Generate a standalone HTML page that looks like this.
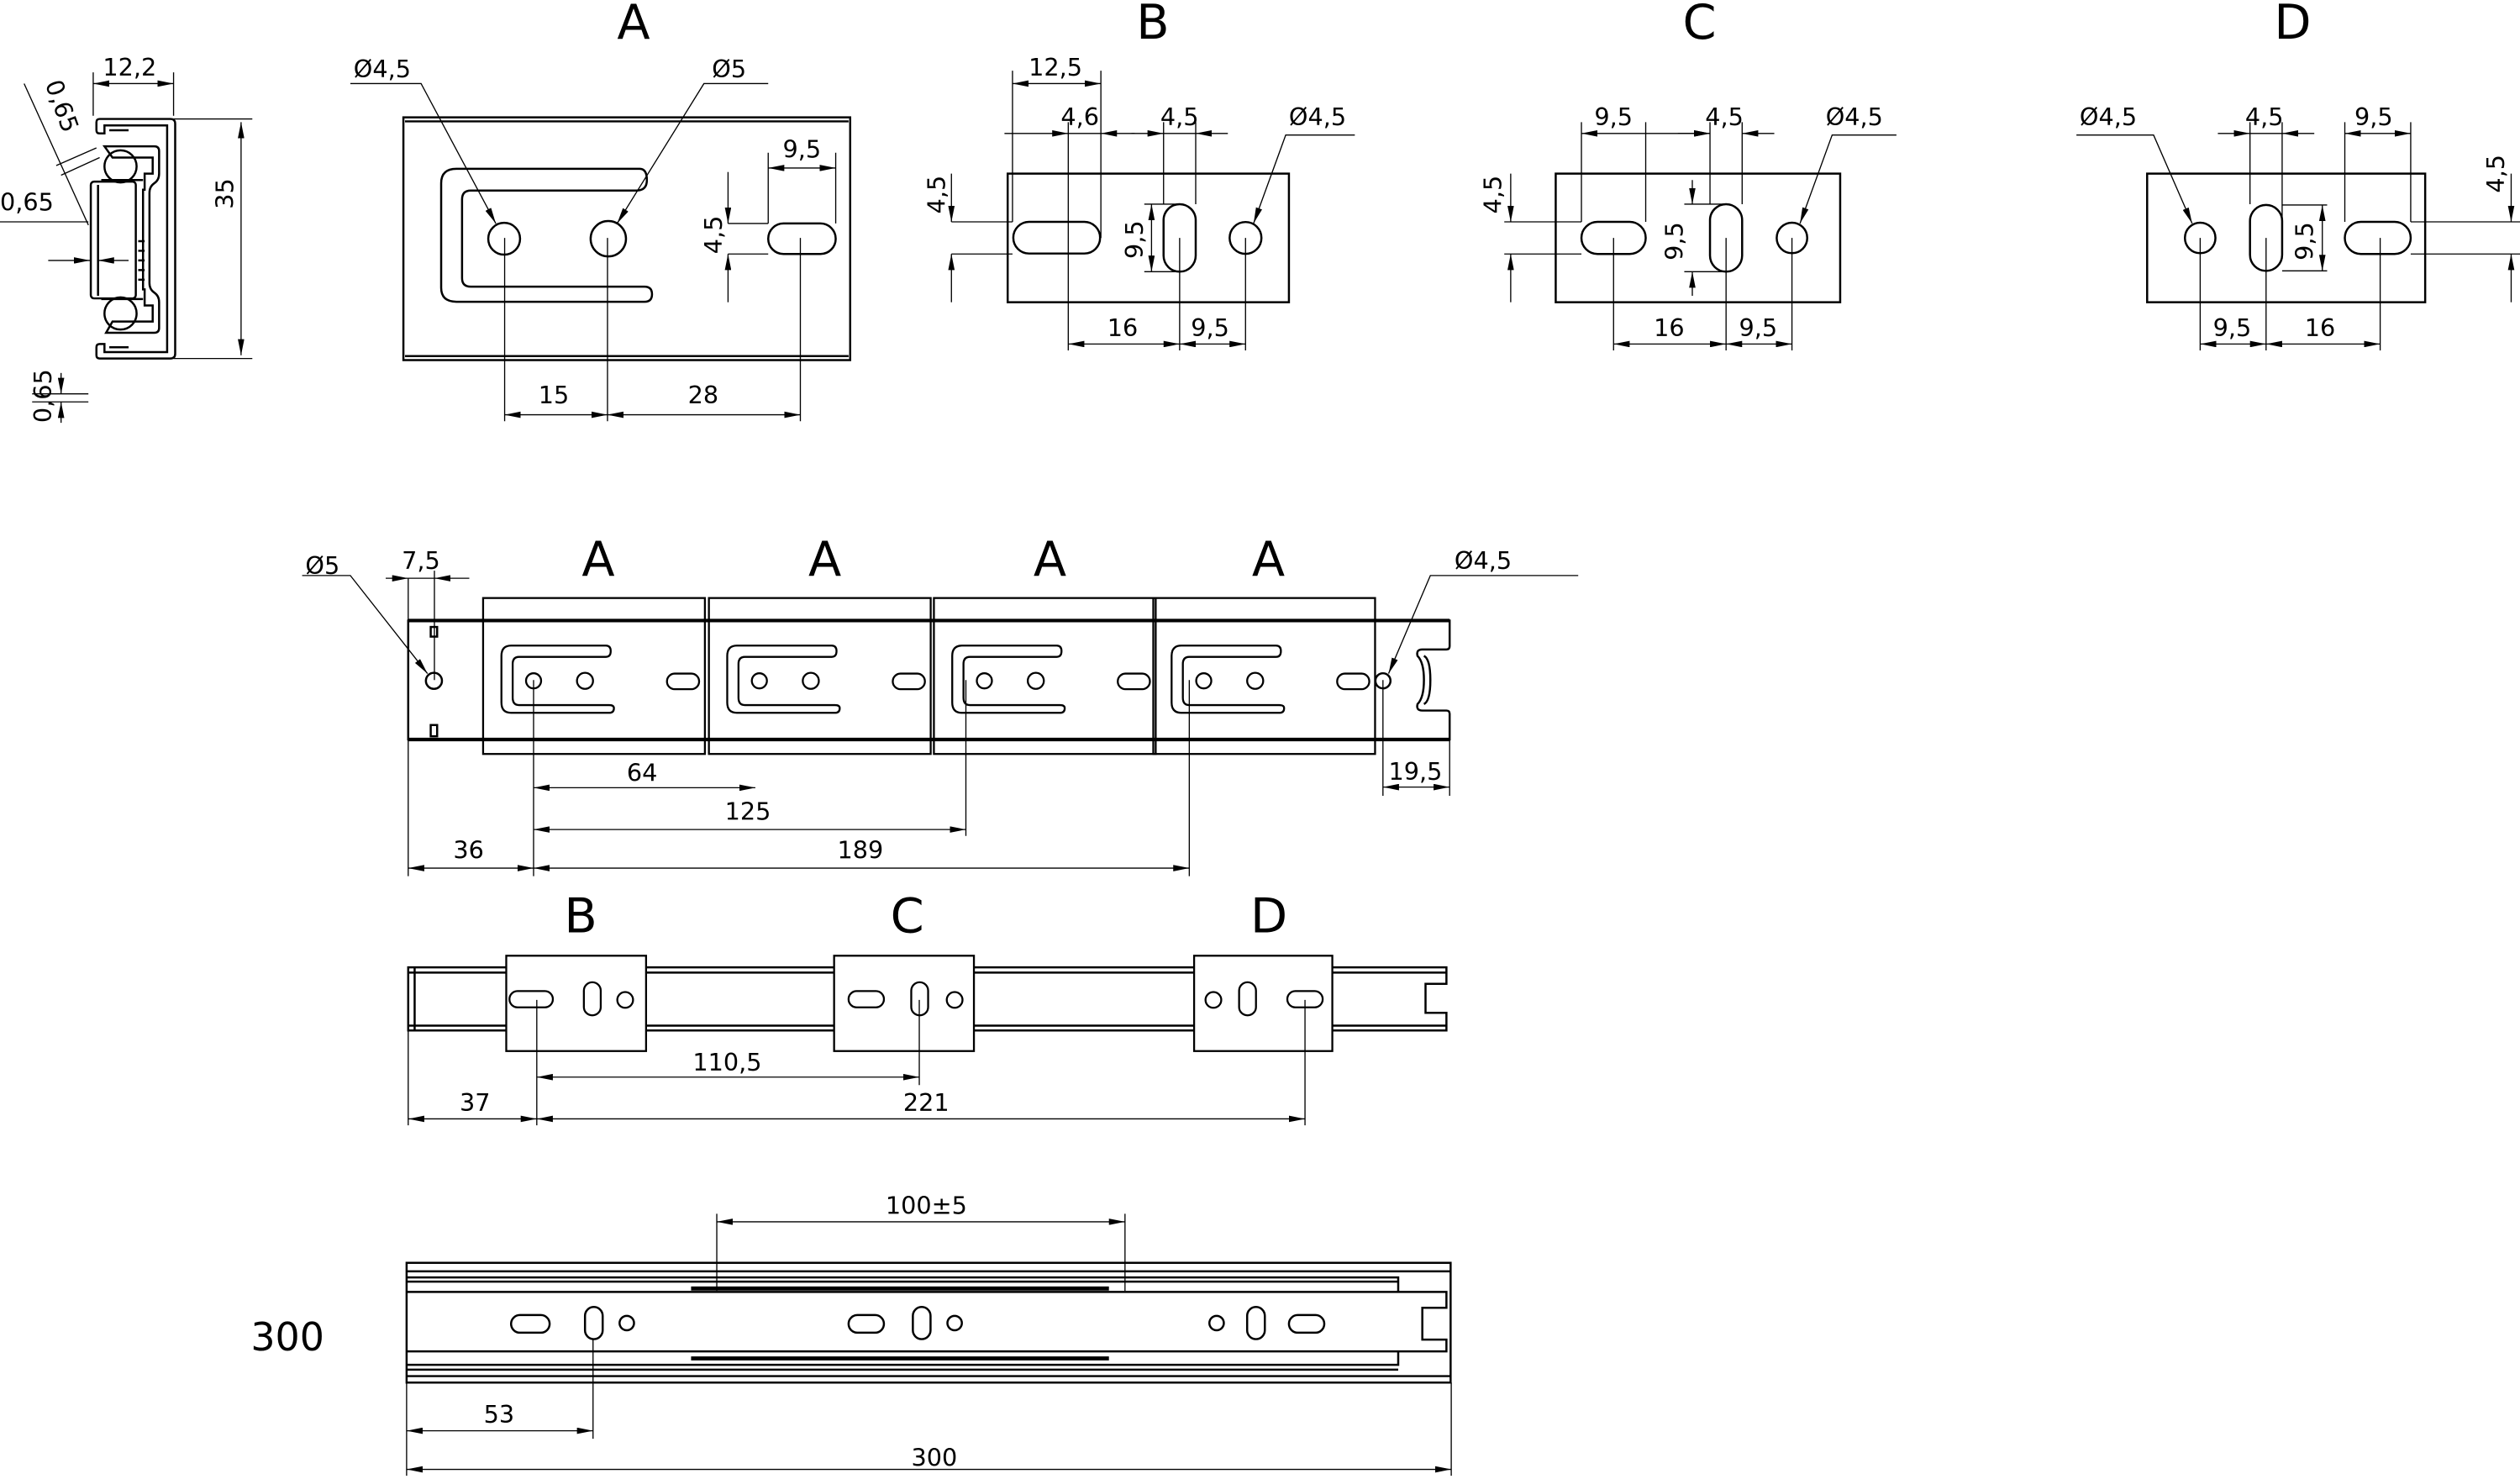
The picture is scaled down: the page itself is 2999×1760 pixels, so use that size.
<!DOCTYPE html>
<html><head><meta charset="utf-8"><style>
html,body{margin:0;padding:0;background:#fff}
svg{display:block}
text{font-family:"DejaVu Sans","Liberation Sans",sans-serif;fill:#000}
.t{font-size:15px}
.L{font-size:30px}
</style></head><body>
<svg width="2999" height="1760" viewBox="0 0 1568 920" preserveAspectRatio="none" xmlns="http://www.w3.org/2000/svg">
<defs>
<marker id="a" viewBox="0 0 10 4" refX="10" refY="2" markerWidth="10" markerHeight="4" markerUnits="userSpaceOnUse" orient="auto-start-reverse"><path d="M0,0L10,2L0,4z"/></marker>
</defs>
<!-- cross section -->
<g fill="none" stroke="#000" stroke-width="1.3">
<path d="M62,74H106Q109,74 109,77V220Q109,223 106,223H62Q60,223 60,221V216Q60,214 62,214H65V219H104V78H65V83H62Q60,83 60,81V76Q60,74 62,74z"/>
<path d="M68,81H80M68,216H80"/>
<path d="M65,91H96Q99,91 99,94V108Q99,112 96,114Q93,116 93,120V176Q93,180 96,182Q99,184 99,188V204Q99,207 96,207H66L70,200H95V190H90V180H89V118H90V108H95V98H70z"/>
<rect x="56.5" y="113" width="28" height="72.6" rx="2"/>
<path d="M61,115V184"/>
<circle cx="75" cy="103.5" r="10"/><circle cx="75" cy="195" r="10"/>
<path d="M63,112H89M63,186H89"/>
<path d="M86,150H90M86,156H90M86,162H90M86,168H90M86,174H90"/>
</g>
<g stroke="#000" stroke-width="0.7" fill="none">
<path d="M58,45V72M108,45V72"/><path d="M58,52H108" marker-start="url(#a)" marker-end="url(#a)"/>
<path d="M108,74H157M108,223H157"/><path d="M150,76V221" marker-start="url(#a)" marker-end="url(#a)"/>
<path d="M0,138H55"/><path d="M30,162H56" marker-end="url(#a)"/><path d="M80,162H61" marker-end="url(#a)"/>
<path d="M20,245H55M20,250H55"/><path d="M38,232V245" marker-end="url(#a)"/><path d="M38,263V250" marker-end="url(#a)"/>
<path d="M15,52L55,140"/><path d="M35,103L60,92M38,109L62,98"/>
</g>
<text class="t" x="64" y="47">12,2</text>
<text class="t" x="0" y="131">0,65</text>
<text class="t" transform="translate(145,130) rotate(-90)">35</text>
<text class="t" transform="translate(32,263) rotate(-90)">0,65</text>
<text class="t" transform="translate(28,52) rotate(70)">0,65</text>

<!-- Bracket A detail -->
<g fill="none" stroke="#000" stroke-width="1.3">
<rect x="251" y="73" width="278" height="151"/>
<path d="M252,75.5H528M252,221.5H528"/>
<path d="M398,105H284Q274.5,105 274.5,114V179Q274.5,187.7 284,187.7H401Q405.7,187.7 405.7,183Q405.7,178.3 401,178.3H293Q287.5,178.3 287.5,173V124Q287.5,118.5 293,118.5H396Q402.5,118.5 402.5,112Q402.5,105 398,105z"/>
<circle cx="313.7" cy="148.5" r="9.9"/><circle cx="378.5" cy="148.5" r="11"/>
<rect x="478" y="139" width="42" height="19" rx="9.5"/>
</g>
<g stroke="#000" stroke-width="0.7" fill="none">
<path d="M314,148V262M378,148V262M498,148V262"/>
<path d="M314,258H378" marker-start="url(#a)" marker-end="url(#a)"/><path d="M378,258H498" marker-start="url(#a)" marker-end="url(#a)"/>
<path d="M478,95V139M520,95V139"/><path d="M478,104.5H520" marker-start="url(#a)" marker-end="url(#a)"/>
<path d="M453,139H478M453,158H478"/><path d="M453,107V139" marker-end="url(#a)"/><path d="M453,188V158" marker-end="url(#a)"/>
<path d="M218,52H262L308.5,139" marker-end="url(#a)"/><path d="M478,52H438L384,139" marker-end="url(#a)"/>
</g>
<text class="L" x="384" y="24">A</text>
<text class="t" x="335" y="251">15</text><text class="t" x="428" y="251">28</text>
<text class="t" x="487" y="98">9,5</text>
<text class="t" transform="translate(449,158) rotate(-90)">4,5</text>
<text class="t" x="220" y="48">Ø4,5</text><text class="t" x="443" y="48">Ø5</text>

<!-- B -->
<text class="L" x="707" y="24">B</text>
<g fill="none" stroke="#000" stroke-width="1.3">
<rect x="627" y="108" width="175" height="80"/>
<rect x="630.5" y="138" width="54" height="19.7" rx="9.8"/>
<rect x="724" y="127" width="20" height="42" rx="10"/>
<circle cx="775" cy="148" r="9.9"/>
</g>
<g stroke="#000" stroke-width="0.7" fill="none">
<path d="M630,44V138M685,44V148M664.7,76V218M724,76V127M744,76V127M734,148V218M775,148V218"/>
<path d="M630,52H685" marker-start="url(#a)" marker-end="url(#a)"/>
<path d="M625,83H664.7" marker-end="url(#a)"/><path d="M664.7,83H685"/><path d="M706,83H685" marker-end="url(#a)"/>
<path d="M704,83H724" marker-end="url(#a)"/><path d="M724,83H744"/><path d="M764,83H744" marker-end="url(#a)"/>
<path d="M664.7,214H734" marker-start="url(#a)" marker-end="url(#a)"/><path d="M734,214H775" marker-start="url(#a)" marker-end="url(#a)"/>
<path d="M592,138H630M592,158H630"/><path d="M592,108V138" marker-end="url(#a)"/><path d="M592,188V158" marker-end="url(#a)"/>
<path d="M712,127H734M712,169H734"/><path d="M716.5,127V169" marker-start="url(#a)" marker-end="url(#a)"/>
<path d="M843,84H800L780,139" marker-end="url(#a)"/>
</g>
<text class="t" x="640" y="47">12,5</text><text class="t" x="660" y="78">4,6</text><text class="t" x="722" y="78">4,5</text>
<text class="t" x="802" y="78">Ø4,5</text><text class="t" x="689" y="209">16</text><text class="t" x="741" y="209">9,5</text>
<text class="t" transform="translate(588,133) rotate(-90)">4,5</text><text class="t" transform="translate(711,161) rotate(-90)">9,5</text>

<!-- C -->
<text class="L" x="1047" y="24">C</text>
<g fill="none" stroke="#000" stroke-width="1.3">
<rect x="968" y="108" width="177" height="80"/>
<rect x="984" y="138" width="40" height="20" rx="10"/>
<rect x="1064" y="127" width="20" height="42" rx="10"/>
<circle cx="1115" cy="148" r="9.5"/>
</g>
<g stroke="#000" stroke-width="0.7" fill="none">
<path d="M984,76V138M1024,76V138M1064,76V127M1084,76V127M1004,148V218M1074,148V218M1115,148V218"/>
<path d="M984,83H1064" marker-start="url(#a)" marker-end="url(#a)"/>
<path d="M1044,83H1064" marker-end="url(#a)"/><path d="M1104,83H1084" marker-end="url(#a)"/>
<path d="M1004,214H1074" marker-start="url(#a)" marker-end="url(#a)"/><path d="M1074,214H1115" marker-start="url(#a)" marker-end="url(#a)"/>
<path d="M936,138H984M936,158H984"/><path d="M940,108V138" marker-end="url(#a)"/><path d="M940,188V158" marker-end="url(#a)"/>
<path d="M1048,127H1074M1048,169H1074"/><path d="M1053,112V127" marker-end="url(#a)"/><path d="M1053,184V169" marker-end="url(#a)"/>
<path d="M1180,84H1140L1120,139" marker-end="url(#a)"/>
</g>
<text class="t" x="992" y="78">9,5</text><text class="t" x="1061" y="78">4,5</text><text class="t" x="1136" y="78">Ø4,5</text>
<text class="t" x="1029" y="209">16</text><text class="t" x="1082" y="209">9,5</text>
<text class="t" transform="translate(934,133) rotate(-90)">4,5</text><text class="t" transform="translate(1047,162) rotate(-90)">9,5</text>

<!-- D -->
<text class="L" x="1415" y="24">D</text>
<g fill="none" stroke="#000" stroke-width="1.3">
<rect x="1336" y="108" width="173" height="80"/>
<circle cx="1369" cy="148" r="9.5"/>
<rect x="1400" y="127.5" width="20" height="41" rx="10"/>
<rect x="1459" y="138" width="41" height="20" rx="10"/>
</g>
<g stroke="#000" stroke-width="0.7" fill="none">
<path d="M1400,76V127M1420,76V148M1459,76V138M1500,76V138M1369,148V218M1410,148V218M1481,148V218"/>
<path d="M1380,83H1400" marker-end="url(#a)"/><path d="M1400,83H1420"/><path d="M1440,83H1420" marker-end="url(#a)"/>
<path d="M1459,83H1500" marker-start="url(#a)" marker-end="url(#a)"/>
<path d="M1369,214H1410" marker-start="url(#a)" marker-end="url(#a)"/><path d="M1410,214H1481" marker-start="url(#a)" marker-end="url(#a)"/>
<path d="M1420,127.5H1448M1420,168.5H1448"/><path d="M1445,127.5V168.5" marker-start="url(#a)" marker-end="url(#a)"/>
<path d="M1500,138H1568M1500,158H1568"/><path d="M1562.5,108V138" marker-end="url(#a)"/><path d="M1562.5,188V158" marker-end="url(#a)"/>
<path d="M1292,84H1340L1364,139" marker-end="url(#a)"/>
</g>
<text class="t" x="1397" y="78">4,5</text><text class="t" x="1465" y="78">9,5</text><text class="t" x="1294" y="78">Ø4,5</text>
<text class="t" x="1377" y="209">9,5</text><text class="t" x="1434" y="209">16</text>
<text class="t" transform="translate(1439,162) rotate(-90)">9,5</text><text class="t" transform="translate(1558,120) rotate(-90)">4,5</text>

<!-- Rail 1 -->
<g fill="none" stroke="#000" stroke-width="1.3">
<path d="M254,386H902V402Q902,404 900,404H885Q881,404 882,408Q886,412 886,423Q886,434 882,438Q881,442 885,442H900Q902,442 902,444V460H254z"/>
<path d="M886,408Q890,410 890,423Q890,436 886,438"/>
<circle cx="270" cy="423.5" r="5"/><circle cx="860.5" cy="423.5" r="4.7"/>
<rect x="268" y="390" width="4" height="6"/><rect x="268" y="451" width="4" height="7"/>
</g>
<path d="M254,386H902M254,460H902" stroke="#000" stroke-width="2.2"/>
<g fill="none" stroke="#000" stroke-width="1.2">
<g id="ba">
<rect x="300.6" y="372" width="138" height="97" fill="none"/>
<path d="M377,401.6H318Q312,401.6 312,408V437Q312,443.4 318,443.4H379Q382,443.4 382,440.5Q382,438.6 379,438.6H323Q319,438.6 319,434V413Q319,408.6 323,408.6H377Q380,408.6 380,405Q380,401.6 377,401.6z"/>
<circle cx="332" cy="423.5" r="4.7"/><circle cx="364" cy="423.5" r="5"/>
<rect x="415" y="419" width="20" height="9.7" rx="4.8"/>
</g>
<use href="#ba" transform="translate(140.5,0)"/>
<use href="#ba" transform="translate(280.5,0)"/>
<use href="#ba" transform="translate(417,0)"/>
</g>
<g stroke="#000" stroke-width="0.7" fill="none">
<path d="M254,460V545M332,423V545M601,423V520M740,423V545M860.5,423V495M902,460V495"/>
<path d="M332,490H470" marker-start="url(#a)" marker-end="url(#a)"/>
<path d="M332,516H601" marker-start="url(#a)" marker-end="url(#a)"/>
<path d="M332,540H740" marker-start="url(#a)" marker-end="url(#a)"/>
<path d="M254,540H332" marker-start="url(#a)" marker-end="url(#a)"/>
<path d="M860.5,489.6H902" marker-start="url(#a)" marker-end="url(#a)"/>
<path d="M270.3,355V423M240,359.7H254" marker-end="url(#a)"/><path d="M254,359.7H270.3"/><path d="M292,359.7H270.3" marker-end="url(#a)"/><path d="M254,359.7V386"/>
<path d="M188,358H218L266,419" marker-end="url(#a)"/>
<path d="M982,358H890L864,419" marker-end="url(#a)"/>
</g>
<text class="L" x="362" y="358">A</text><text class="L" x="503" y="358">A</text><text class="L" x="643" y="358">A</text><text class="L" x="779" y="358">A</text>
<text class="t" x="190" y="357">Ø5</text><text class="t" x="250" y="354">7,5</text><text class="t" x="905" y="354">Ø4,5</text>
<text class="t" x="390" y="486">64</text><text class="t" x="451" y="510">125</text><text class="t" x="521" y="534">189</text>
<text class="t" x="282" y="534">36</text><text class="t" x="864" y="485">19,5</text>

<!-- Rail 2 -->
<g fill="none" stroke="#000" stroke-width="1.3">
<path d="M254,601.7H900V612H887V630H900V641H254z"/>
<path d="M254,605H900M254,638H900M258,601.7V641"/>
</g>
<g fill="#fff" stroke="#000" stroke-width="1.2">
<rect x="315" y="594.5" width="87" height="59.3"/>
<rect x="317" y="616.5" width="27" height="10.1" rx="5"/><rect x="363.3" y="611" width="10.5" height="20.6" rx="5.2"/><circle cx="389" cy="622" r="4.9"/>
<rect x="519" y="594.5" width="87" height="59.3"/>
<rect x="528" y="616.5" width="22" height="10.1" rx="5"/><rect x="567" y="611" width="10.5" height="20.6" rx="5.2"/><circle cx="594" cy="622" r="4.9"/>
<rect x="743" y="594.5" width="86" height="59.3"/>
<circle cx="755" cy="622" r="4.9"/><rect x="771" y="611" width="10.5" height="20.6" rx="5.2"/><rect x="801" y="616.5" width="22" height="10.1" rx="5"/>
</g>
<g stroke="#000" stroke-width="0.7" fill="none">
<path d="M254,641V700M334,622V700M572,622V675M812,622V700"/>
<path d="M334,670H572" marker-start="url(#a)" marker-end="url(#a)"/>
<path d="M334,696H812" marker-start="url(#a)" marker-end="url(#a)"/>
<path d="M254,696H334" marker-start="url(#a)" marker-end="url(#a)"/>
</g>
<text class="L" x="351" y="580">B</text><text class="L" x="554" y="580">C</text><text class="L" x="778" y="580">D</text>
<text class="t" x="431" y="666">110,5</text><text class="t" x="562" y="691">221</text><text class="t" x="286" y="691">37</text>

<!-- Rail 3 -->
<g fill="none" stroke="#000" stroke-width="1.3">
<path d="M253,785.5H902.6V860H253z"/>
<path d="M253,790.8H902.6M253,856H902.6"/>
<path d="M253,794.6H870V803.6M253,797.2H870M253,849H870V840.6M253,852H870"/>
<path d="M253,803.6H900V813.5H885V833.3H900V840.6H253"/>
<rect x="318" y="818" width="24" height="11" rx="5.5"/><rect x="364" y="813" width="11" height="20" rx="5.5"/><circle cx="390" cy="823" r="4.5"/>
<rect x="528" y="818" width="22" height="11" rx="5.5"/><rect x="568" y="813" width="11" height="20" rx="5.5"/><circle cx="594" cy="823" r="4.5"/>
<circle cx="757" cy="823" r="4.5"/><rect x="776" y="813" width="11" height="20" rx="5.5"/><rect x="802" y="818" width="22" height="11" rx="5.5"/>
</g>
<g stroke="#000" stroke-width="2.5" fill="none">
<path d="M430,801.5H690M430,845H690"/>
</g>
<g stroke="#000" stroke-width="0.7" fill="none">
<path d="M446,755V803M700,755V803M253,860V918M369,833V895M903,860V918"/>
<path d="M446,760H700" marker-start="url(#a)" marker-end="url(#a)"/>
<path d="M253,890H369" marker-start="url(#a)" marker-end="url(#a)"/>
<path d="M253,914H903" marker-start="url(#a)" marker-end="url(#a)"/>
</g>
<text class="t" x="551" y="755">100±5</text><text class="t" x="301" y="885">53</text><text class="t" x="567" y="912">300</text>
<text x="156" y="840" style="font-size:24px">300</text>
</svg>
</body></html>
